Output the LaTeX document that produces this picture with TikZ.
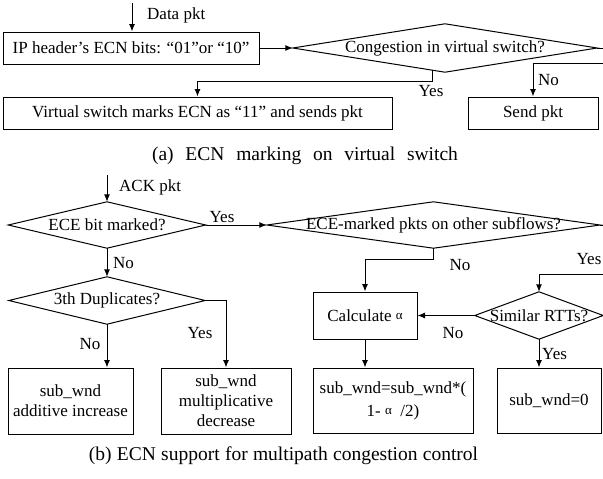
\documentclass[tikz,border=0pt]{standalone}
\usepackage{fontspec}
\setmainfont{Liberation Serif}
\usetikzlibrary{arrows.meta,calc}

\newcommand\fsbox{\fontsize{17}{20}\selectfont}
\newcommand\fscap{\fontsize{19.5}{23}\selectfont}
\newcommand\smallalpha{\raisebox{1.5pt}{\fontsize{13}{13}\selectfont α}}
% a decision node is an invisible rectangle; its outline is the diamond
% through the four side midpoints
\newcommand\decisionoutline[1]{\draw[line width=1pt] (#1.west) -- (#1.north) -- (#1.east) -- (#1.south) -- cycle;}

\tikzset{
  box/.style={draw, line width=1pt, inner sep=0pt, align=center, font=\fsbox},
  decision/.style={inner sep=0pt, align=center, font=\fsbox},
  flow/.style={line width=1pt, -{Latex[length=7.5pt,width=6pt]}},
  lbl/.style={inner sep=0pt, font=\fsbox},
  captiontext/.style={inner sep=0pt, font=\fscap},
}

\begin{document}
\begin{tikzpicture}[x=1pt,y=-1pt]
\useasboundingbox (0,0) rectangle (603,479);
\clip (0,0) rectangle (603,479);

% ---------------- (a) marking on the virtual switch ----------------
\coordinate (datain) at (132,3);
\node[box, minimum width=256pt, minimum height=32pt] (ipbits) at (131,48)
  {IP header’s ECN bits: “01”or “10”};
\node[decision, minimum width=304pt, minimum height=48pt] (cong) at (445,48)
  {Congestion in virtual switch?};
\decisionoutline{cong}
\node[box, minimum width=389pt, minimum height=32pt] (swmark) at (197.5,113)
  {Virtual switch marks ECN as “11” and sends pkt};
\node[box, minimum width=130pt, minimum height=32pt] (send) at (533,113)
  {Send pkt};

\draw[flow] (datain) -- (datain |- ipbits.north);
\node[lbl, anchor=west] (datalbl) at (147,15) {Data pkt};
\draw[flow] (ipbits.east) -- (cong.west);
\coordinate (congyes) at ($(cong.south)+(-13,-2)$);
\draw[flow] (congyes) -- ++(0,11) -| (swmark.north);
\node[lbl] (yesa) at (431,91) {Yes};
\draw[flow] (cong.east) -- ++(12,0) -- ++(0,15) -| (send.north);
\node[lbl, anchor=west] (noa) at (538,80) {No};

\node[captiontext] (capa) at (305,156)
  {\spaceskip=11.8pt\relax (a) ECN marking on virtual switch};

% ---------------- (b) multipath congestion control ----------------
\coordinate (ackin) at (107,175);
\node[decision, minimum width=197pt, minimum height=46pt] (ecebit) at (107,225)
  {ECE bit marked?};
\decisionoutline{ecebit}
\node[decision, minimum width=333pt, minimum height=46pt] (other) at (433.5,225)
  {ECE-marked pkts on other subflows?};
\decisionoutline{other}
\node[decision, minimum width=196pt, minimum height=47pt] (dup) at (107,300.5)
  {3th Duplicates?};
\decisionoutline{dup}
\node[box, minimum width=125pt, minimum height=66pt] (addinc) at (70.5,401)
  {sub\_wnd\\additive increase};
\node[box, minimum width=130pt, minimum height=66pt] (muldec) at (226,401)
  {sub\_wnd\\multiplicative\\decrease};
\node[box, minimum width=104pt, minimum height=47pt] (calc) at (365,315.5)
  {Calculate \smallalpha};
\node[decision, minimum width=128pt, minimum height=47pt] (rtt) at (539,315.5)
  {Similar RTTs?};
\decisionoutline{rtt}
\node[box, minimum width=160pt, minimum height=65pt, font=\fontsize{17}{23}\selectfont] (scale) at (393,400.5)
  {sub\_wnd=sub\_wnd*(\\1- \smallalpha\ \ /2)};
\node[box, minimum width=104pt, minimum height=65pt] (zero) at (549,400.5)
  {sub\_wnd=0};

\draw[flow] (ackin) -- (ecebit.north);
\node[lbl, anchor=west] (acklbl) at (119,187) {ACK pkt};
\draw[flow] (ecebit.east) -- (other.west);
\node[lbl] (yesb1) at (222,217) {Yes};
\draw[flow] (ecebit.south) -- (dup.north);
\node[lbl, anchor=west] (nob1) at (113,263) {No};
\draw[flow] (dup.south) -- (dup.south |- addinc.north);
\node[lbl] (nob2) at (90,344) {No};
\draw[flow] (dup.east) -| (muldec.north);
\node[lbl] (yesb2) at (200,333) {Yes};
\draw[flow] (other.south) -- ++(0,11) -| (calc.north);
\node[lbl] (nob3) at (460,265) {No};
\draw[flow] (other.east) -- ++(10,0) -- ++(0,49) -| (rtt.north);
\node[lbl] (yesb3) at (589,259) {Yes};
\draw[flow] (rtt.west) -- (calc.east);
\node[lbl] (nob4) at (453,333) {No};
\draw[flow] (rtt.south) -- (rtt.south |- zero.north);
\node[lbl, anchor=west] (yesb4) at (542,354) {Yes};
\draw[flow] (calc.south) -- (calc.south |- scale.north);

\node[captiontext] (capb) at (283.5,456)
  {\spaceskip=5.3pt\relax (b) ECN support for multipath congestion control};
\end{tikzpicture}
\end{document}
